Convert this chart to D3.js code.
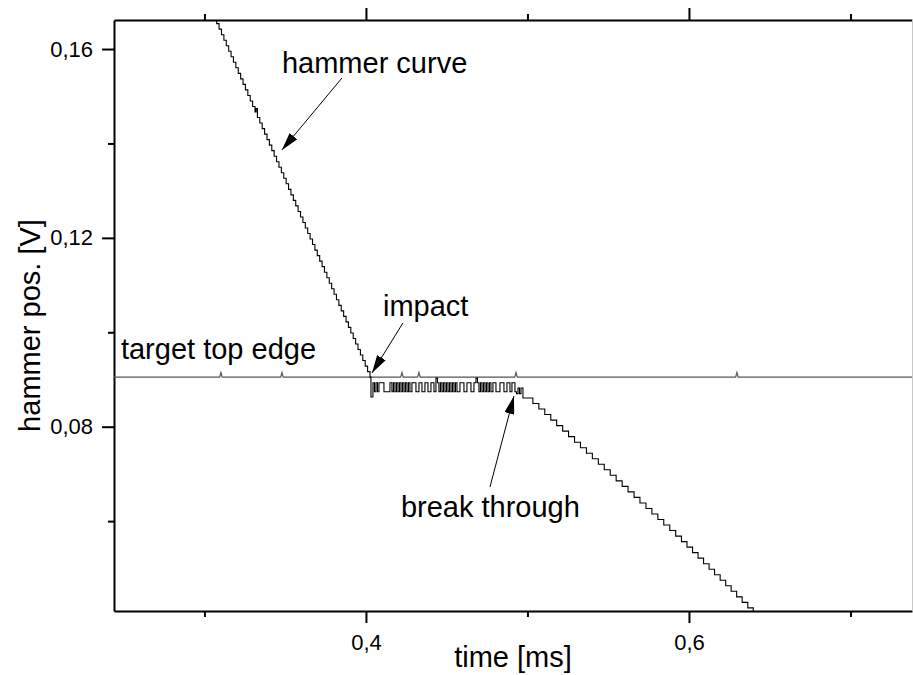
<!DOCTYPE html>
<html>
<head>
<meta charset="utf-8">
<script src="https://cdn.jsdelivr.net/npm/d3@7"></script>
<style>
body{margin:0;background:#fff;}
text{font-family:"Liberation Sans",Arial,sans-serif;fill:#000;}
</style>
</head>
<body>
<div id="DrawingBoard"></div>
<script>
// ---- data (time in ms, position in V) ----
// hammer falling onto the target
var descentT=[0.30462,0.30610,0.30759,0.30907,0.31055,0.31204,0.31352,0.31500,0.31648,0.31797,
  0.31945,0.32093,0.32242,0.32390,0.32538,0.32687,0.32835,0.32983,0.33131,0.33200,
  0.33280,0.33428,0.33576,0.33725,0.33873,0.34021,0.34170,0.34318,0.34466,0.34614,
  0.34763,0.34911,0.35059,0.35208,0.35356,0.35504,0.35653,0.35801,0.35949,0.36097,
  0.36246,0.36394,0.36542,0.36691,0.36839,0.36987,0.37136,0.37284,0.37432,0.37580,
  0.37729,0.37877,0.38025,0.38174,0.38322,0.38470,0.38619,0.38767,0.38915,0.39063,
  0.39212,0.39360,0.39508,0.39657,0.39805,0.39953,0.40102,0.40250];
var descentV=[0.16772,0.16655,0.16538,0.16421,0.16304,0.16187,0.16070,0.15953,0.15836,0.15719,
  0.15602,0.15485,0.15368,0.15251,0.15134,0.15017,0.14900,0.14783,0.14666,0.14740,
  0.14549,0.14432,0.14315,0.14198,0.14081,0.13964,0.13847,0.13730,0.13613,0.13496,
  0.13379,0.13262,0.13145,0.13028,0.12911,0.12794,0.12677,0.12560,0.12443,0.12326,
  0.12209,0.12092,0.11975,0.11858,0.11741,0.11624,0.11507,0.11390,0.11273,0.11156,
  0.11039,0.10922,0.10805,0.10688,0.10571,0.10454,0.10337,0.10220,0.10103,0.09986,
  0.09869,0.09752,0.09635,0.09518,0.09401,0.09284,0.09167,0.09050];
// resting on the target after impact
var plateauT=[0.40310,0.40433,0.40526,0.40619,0.40712,0.40805,0.41115,0.41486,0.41610,0.41703,
  0.41796,0.41889,0.41981,0.42074,0.42167,0.42260,0.42353,0.42446,0.42539,0.42632,
  0.42724,0.42848,0.43096,0.43282,0.43468,0.43653,0.43839,0.44025,0.44211,0.44334,
  0.44427,0.44520,0.44613,0.44706,0.44799,0.44892,0.44985,0.45077,0.45170,0.45263,
  0.45356,0.45449,0.45542,0.45635,0.45820,0.46068,0.46254,0.46502,0.46687,0.46811,
  0.46904,0.46997,0.47090,0.47183,0.47276,0.47368,0.47461,0.47554,0.47647,0.47740,
  0.47864,0.48050,0.48297,0.48545,0.48731,0.48916,0.49040,0.49226,0.49319,0.49412,
  0.49505,0.49598];
var plateauV=[0.0863,0.0893,0.0874,0.0893,0.0874,0.0893,0.0874,0.0893,0.0874,0.0893,
  0.0874,0.0893,0.0874,0.0893,0.0874,0.0893,0.0874,0.0893,0.0874,0.0893,
  0.0874,0.0893,0.0874,0.0893,0.0874,0.0893,0.0874,0.0893,0.0874,0.0903,
  0.0893,0.0874,0.0893,0.0874,0.0893,0.0874,0.0893,0.0874,0.0893,0.0874,
  0.0893,0.0874,0.0893,0.0874,0.0893,0.0874,0.0893,0.0874,0.0893,0.0903,
  0.0893,0.0874,0.0893,0.0874,0.0893,0.0874,0.0893,0.0874,0.0893,0.0874,
  0.0893,0.0874,0.0893,0.0874,0.0893,0.0874,0.0893,0.0874,0.0870,0.0882,
  0.0870,0.0882];
// after break through
var breakT=[0.49721,0.50335,0.50706,0.51071,0.51443,0.51808,0.52180,0.52545,0.52917,0.53282,
  0.53653,0.54019,0.54390,0.54756,0.55127,0.55492,0.55864,0.56229,0.56601,0.56966,
  0.57338,0.57703,0.58075,0.58440,0.58811,0.59177,0.59536,0.59876,0.60223,0.60564,
  0.60904,0.61245,0.61585,0.61932,0.62273,0.62613,0.62954,0.63294,0.63641,0.63982,
  0.64322];
var breakV=[0.08608,0.08491,0.08374,0.08257,0.08140,0.08023,0.07906,0.07789,0.07672,0.07555,
  0.07438,0.07321,0.07204,0.07087,0.06970,0.06853,0.06736,0.06619,0.06502,0.06385,
  0.06268,0.06151,0.06034,0.05917,0.05800,0.05683,0.05566,0.05449,0.05332,0.05215,
  0.05098,0.04981,0.04864,0.04747,0.04630,0.04513,0.04396,0.04279,0.04162,0.04045,
  0.03928];
// target top edge reference line
var targetT=[0.2440,0.3094,0.3102,0.3110,0.3472,0.3480,0.3488,0.4215,0.4223,0.4231,
  0.4320,0.4328,0.4336,0.4921,0.4929,0.4937,0.6289,0.6297,0.6305,0.7381];
var targetV=[0.0905,0.0905,0.0915,0.0905,0.0905,0.0915,0.0905,0.0905,0.0915,0.0905,
  0.0905,0.0915,0.0905,0.0905,0.0915,0.0905,0.0905,0.0915,0.0905,0.0905];

var xMajor=[0.4,0.6], xMinor=[0.3,0.5,0.7];
var yMajor=[0.08,0.12,0.16], yMinor=[0.06,0.10,0.14];

var width=913,height=675,
    margin={left:114,top:20,right:1,bottom:64};

var svg=d3.select('#DrawingBoard')
    .append('svg')
    .attr('width',width)
    .attr('height',height);

var x=d3.scaleLinear().domain([0.2440,0.7381]).range([margin.left,width-margin.right]);
var y=d3.scaleLinear().domain([0.04096,0.16615]).range([height-margin.bottom,margin.top]);

// comma as decimal sign
var loc=d3.formatLocale({decimal:",",thousands:".",grouping:[3],currency:["",""]});

function drawAxis(axisFn,scale,major,minor,fmt,transform){
    var gMin=svg.append('g').attr('transform',transform)
        .call(axisFn(scale).tickValues(minor).tickSize(6).tickSizeOuter(0).tickFormat(''));
    gMin.select('.domain').remove();
    var g=svg.append('g').attr('transform',transform)
        .call(axisFn(scale).tickValues(major).tickSize(12).tickSizeOuter(0).tickPadding(fmt?10:0)
            .tickFormat(fmt?fmt:''));
    [gMin,g].forEach(function(a){
        a.attr('font-size',null).attr('font-family',null);
        a.selectAll('line').attr('stroke','#000').attr('stroke-width',2);
        a.selectAll('.domain').attr('stroke','#000').attr('stroke-width',2);
        a.selectAll('text').style('font-size','22px').attr('fill','#000');
    });
    return g;
}

var yb=height-margin.bottom;
var xAx=drawAxis(d3.axisBottom,x,xMajor,xMinor,loc.format('.1f'),'translate(0,'+yb+')');
xAx.selectAll('text').attr('dy','0.71em').attr('y',23);
drawAxis(d3.axisTop,x,xMajor,xMinor,null,'translate(0,'+margin.top+')');
var yAx=drawAxis(d3.axisLeft,y,yMajor,yMinor,loc.format('.2f'),'translate('+margin.left+',0)');
yAx.selectAll('text').attr('x',-21);

// cut-off right frame
svg.append('line')
    .attr('x1',width-0.5).attr('x2',width-0.5)
    .attr('y1',margin.top).attr('y2',yb)
    .attr('stroke','#c8c8c8').attr('stroke-width',1);

svg.append('clipPath').attr('id','plot')
    .append('rect')
    .attr('x',margin.left).attr('y',margin.top)
    .attr('width',width-margin.left-margin.right)
    .attr('height',yb-margin.top);

var board=svg.append('g').attr('clip-path','url(#plot)');

var targetPts=d3.zip(targetT,targetV);
var hammerPts=d3.zip(descentT,descentV)
    .concat(d3.zip(plateauT,plateauV))
    .concat(d3.zip(breakT,breakV));

board.append('path')
    .attr('d',d3.line().x(function(d){return x(d[0]);}).y(function(d){return y(d[1]);})(targetPts))
    .attr('fill','none').attr('stroke','#555').attr('stroke-width',1.2);

board.append('path')
    .attr('d',d3.line().curve(d3.curveStepAfter)
        .x(function(d){return x(d[0]);}).y(function(d){return y(d[1]);})(hammerPts))
    .attr('fill','none').attr('stroke','#000').attr('stroke-width',1.1);

// annotations
svg.append('defs').append('marker')
    .attr('id','head').attr('markerUnits','userSpaceOnUse')
    .attr('markerWidth',19).attr('markerHeight',10)
    .attr('refX',18).attr('refY',5).attr('orient','auto')
    .append('path').attr('d','M0,0 L18,5 L0,10 Z').attr('fill','#000');

var notes=[
    {text:'hammer curve',tx:0.34799,tv:0.15492,from:[0.38514,0.15386],to:[0.34799,0.13861]},
    {text:'impact',tx:0.41053,tv:0.10345,from:[0.42291,0.10197],to:[0.40372,0.09137]},
    {text:'target top edge',tx:0.24830,tv:0.09434},
    {text:'break through',tx:0.42166,tv:0.06087,from:[0.47678,0.06723],to:[0.49164,0.08650]}
];
notes.forEach(function(n){
    svg.append('text').attr('x',x(n.tx)).attr('y',y(n.tv))
        .style('font-size','29px').text(n.text);
    if(n.from){
        svg.append('line')
            .attr('x1',x(n.from[0])).attr('y1',y(n.from[1]))
            .attr('x2',x(n.to[0])).attr('y2',y(n.to[1]))
            .attr('stroke','#000').attr('stroke-width',1)
            .attr('marker-end','url(#head)');
    }
});

// axis titles
svg.append('text')
    .attr('x',(margin.left+width-margin.right)/2).attr('y',667)
    .attr('text-anchor','middle').style('font-size','29px')
    .text('time [ms]');
svg.append('text')
    .attr('transform','translate(40,'+((margin.top+yb)/2+10)+') rotate(-90)')
    .attr('text-anchor','middle').style('font-size','29px')
    .text('hammer pos. [V]');
</script>
</body>
</html>
